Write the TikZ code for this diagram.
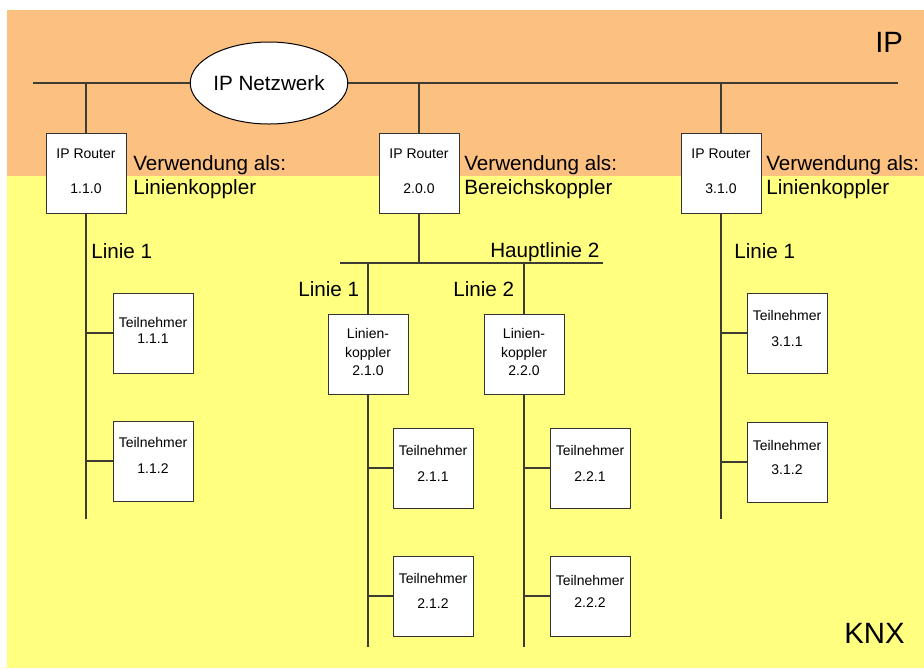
\documentclass[tikz,border=0pt]{standalone}
\usepackage{fontspec}
\setmainfont{Liberation Sans}
\usetikzlibrary{shapes.geometric}
\definecolor{ipband}{RGB}{252,192,128}
\definecolor{knxband}{RGB}{255,255,128}
\definecolor{wire}{RGB}{60,60,50}
\newcommand{\tiefe}[1]{\rule[-#1]{0pt}{0pt}}
\tikzset{
	geraet/.style={draw=black!80, fill=white, line width=0.75pt, minimum width=60pt, minimum height=60pt, inner sep=0pt, align=center, font=\fontsize{10.5}{12.6}\selectfont},
	wolke/.style={ellipse, draw=black, fill=white, line width=0.75pt, minimum width=117pt, minimum height=61.5pt, inner sep=0pt, font=\fontsize{15.5}{18}\selectfont},
	bus/.style={draw=wire, line width=0.85pt},
	bezeichnung/.style={inner sep=0pt, font=\fontsize{15.5}{18}\selectfont},
	zone/.style={inner sep=0pt, font=\fontsize{22}{26}\selectfont}
}
\begin{document}
\begin{tikzpicture}[x=0.75pt, y=-0.75pt]
		\def\w{924}
		\def\h{669}
		\def\grenze{176}
		\useasboundingbox (0,0) rectangle (\w,\h);
		\fill[ipband] (7,10) rectangle (\w,\grenze);
		\fill[knxband] (7,\grenze) rectangle (\w,668);
		% IP Ebene
		\coordinate (busW) at (33,83);
		\coordinate (busE) at (898,83);
		\node[wolke] (netz) at (269,83) {IP Netzwerk};
		\node[geraet] (r1) at (86,173) {IP Router\\[14pt]1.1.0\tiefe{3pt}};
		\node[geraet] (r2) at (419,173) {IP Router\\[14pt]2.0.0\tiefe{3pt}};
		\node[geraet] (r3) at (721,173) {IP Router\\[14pt]3.1.0\tiefe{3pt}};
		\node[bezeichnung, anchor=west, align=left] (v1) at (133,177) {Verwendung als:\\Linienkoppler};
		\node[bezeichnung, anchor=west, align=left] (v2) at (464,177) {Verwendung als:\\Bereichskoppler};
		\node[bezeichnung, anchor=west, align=left] (v3) at (766,177) {Verwendung als:\\Linienkoppler};
		\node[zone, anchor=base west] (ip) at (875,52) {IP};
		\node[zone, anchor=base west] (knx) at (844,643) {KNX};
		% Linie 1.1
		\coordinate (l1end) at (86,519);
		\node[bezeichnung, anchor=base west] (n11) at (91,258) {Linie 1};
		\node[geraet] (t111) at (153,333) {Teilnehmer\\[0pt]1.1.1\tiefe{4pt}};
		\node[geraet] (t112) at (153,461) {Teilnehmer\\[7pt]1.1.2\tiefe{8pt}};
		% Bereich 2
		\coordinate (hlW) at (340,263);
		\coordinate (hlE) at (603,263);
		\coordinate (l21end) at (368,647);
		\coordinate (l22end) at (524,647);
		\node[bezeichnung, anchor=base west] (hl2) at (490,257) {Hauptlinie 2};
		\node[bezeichnung, anchor=base west] (n21) at (298,296) {Linie 1};
		\node[bezeichnung, anchor=base west] (n22) at (453,296) {Linie 2};
		\node[geraet] (k21) at (368,354) {Linien-\\[1pt]koppler\\[1pt]2.1.0\tiefe{3pt}};
		\node[geraet] (k22) at (524,354) {Linien-\\[1pt]koppler\\[1pt]2.2.0\tiefe{3pt}};
		\node[geraet] (t211) at (433,468) {Teilnehmer\\[7pt]2.1.1\tiefe{7pt}};
		\node[geraet] (t212) at (433,596) {Teilnehmer\\[6pt]2.1.2\tiefe{8pt}};
		\node[geraet] (t221) at (590,468) {Teilnehmer\\[7pt]2.2.1\tiefe{7pt}};
		\node[geraet] (t222) at (590,596) {Teilnehmer\\[4pt]2.2.2\tiefe{7pt}};
		% Linie 3.1
		\coordinate (l31end) at (721,519);
		\node[bezeichnung, anchor=base west] (n31) at (734,258) {Linie 1};
		\node[geraet] (t311) at (787,333) {Teilnehmer\\[7pt]3.1.1\tiefe{7pt}};
		\node[geraet] (t312) at (787,462) {Teilnehmer\\[5.5pt]3.1.2\tiefe{7pt}};
		% Verbindungen
		\draw[bus] (busW) -- (netz);
		\draw[bus] (netz) -- (busE);
		\draw[bus] (r1) -- (r1 |- busW);
		\draw[bus] (r2) -- (r2 |- busW);
		\draw[bus] (r3) -- (r3 |- busW);
		\draw[bus] (r1) -- (l1end);
		\draw[bus] (t111) -- (t111 -| r1);
		\draw[bus] (t112) -- (t112 -| r1);
		\draw[bus] (r2) -- (r2 |- hlW);
		\draw[bus] (hlW) -- (hlE);
		\draw[bus] (k21) -- (k21 |- hlW);
		\draw[bus] (k22) -- (k22 |- hlW);
		\draw[bus] (k21) -- (l21end);
		\draw[bus] (k22) -- (l22end);
		\draw[bus] (t211) -- (t211 -| k21);
		\draw[bus] (t212) -- (t212 -| k21);
		\draw[bus] (t221) -- (t221 -| k22);
		\draw[bus] (t222) -- (t222 -| k22);
		\draw[bus] (r3) -- (l31end);
		\draw[bus] (t311) -- (t311 -| r3);
		\draw[bus] (t312) -- (t312 -| r3);
	\end{tikzpicture}
\end{document}
